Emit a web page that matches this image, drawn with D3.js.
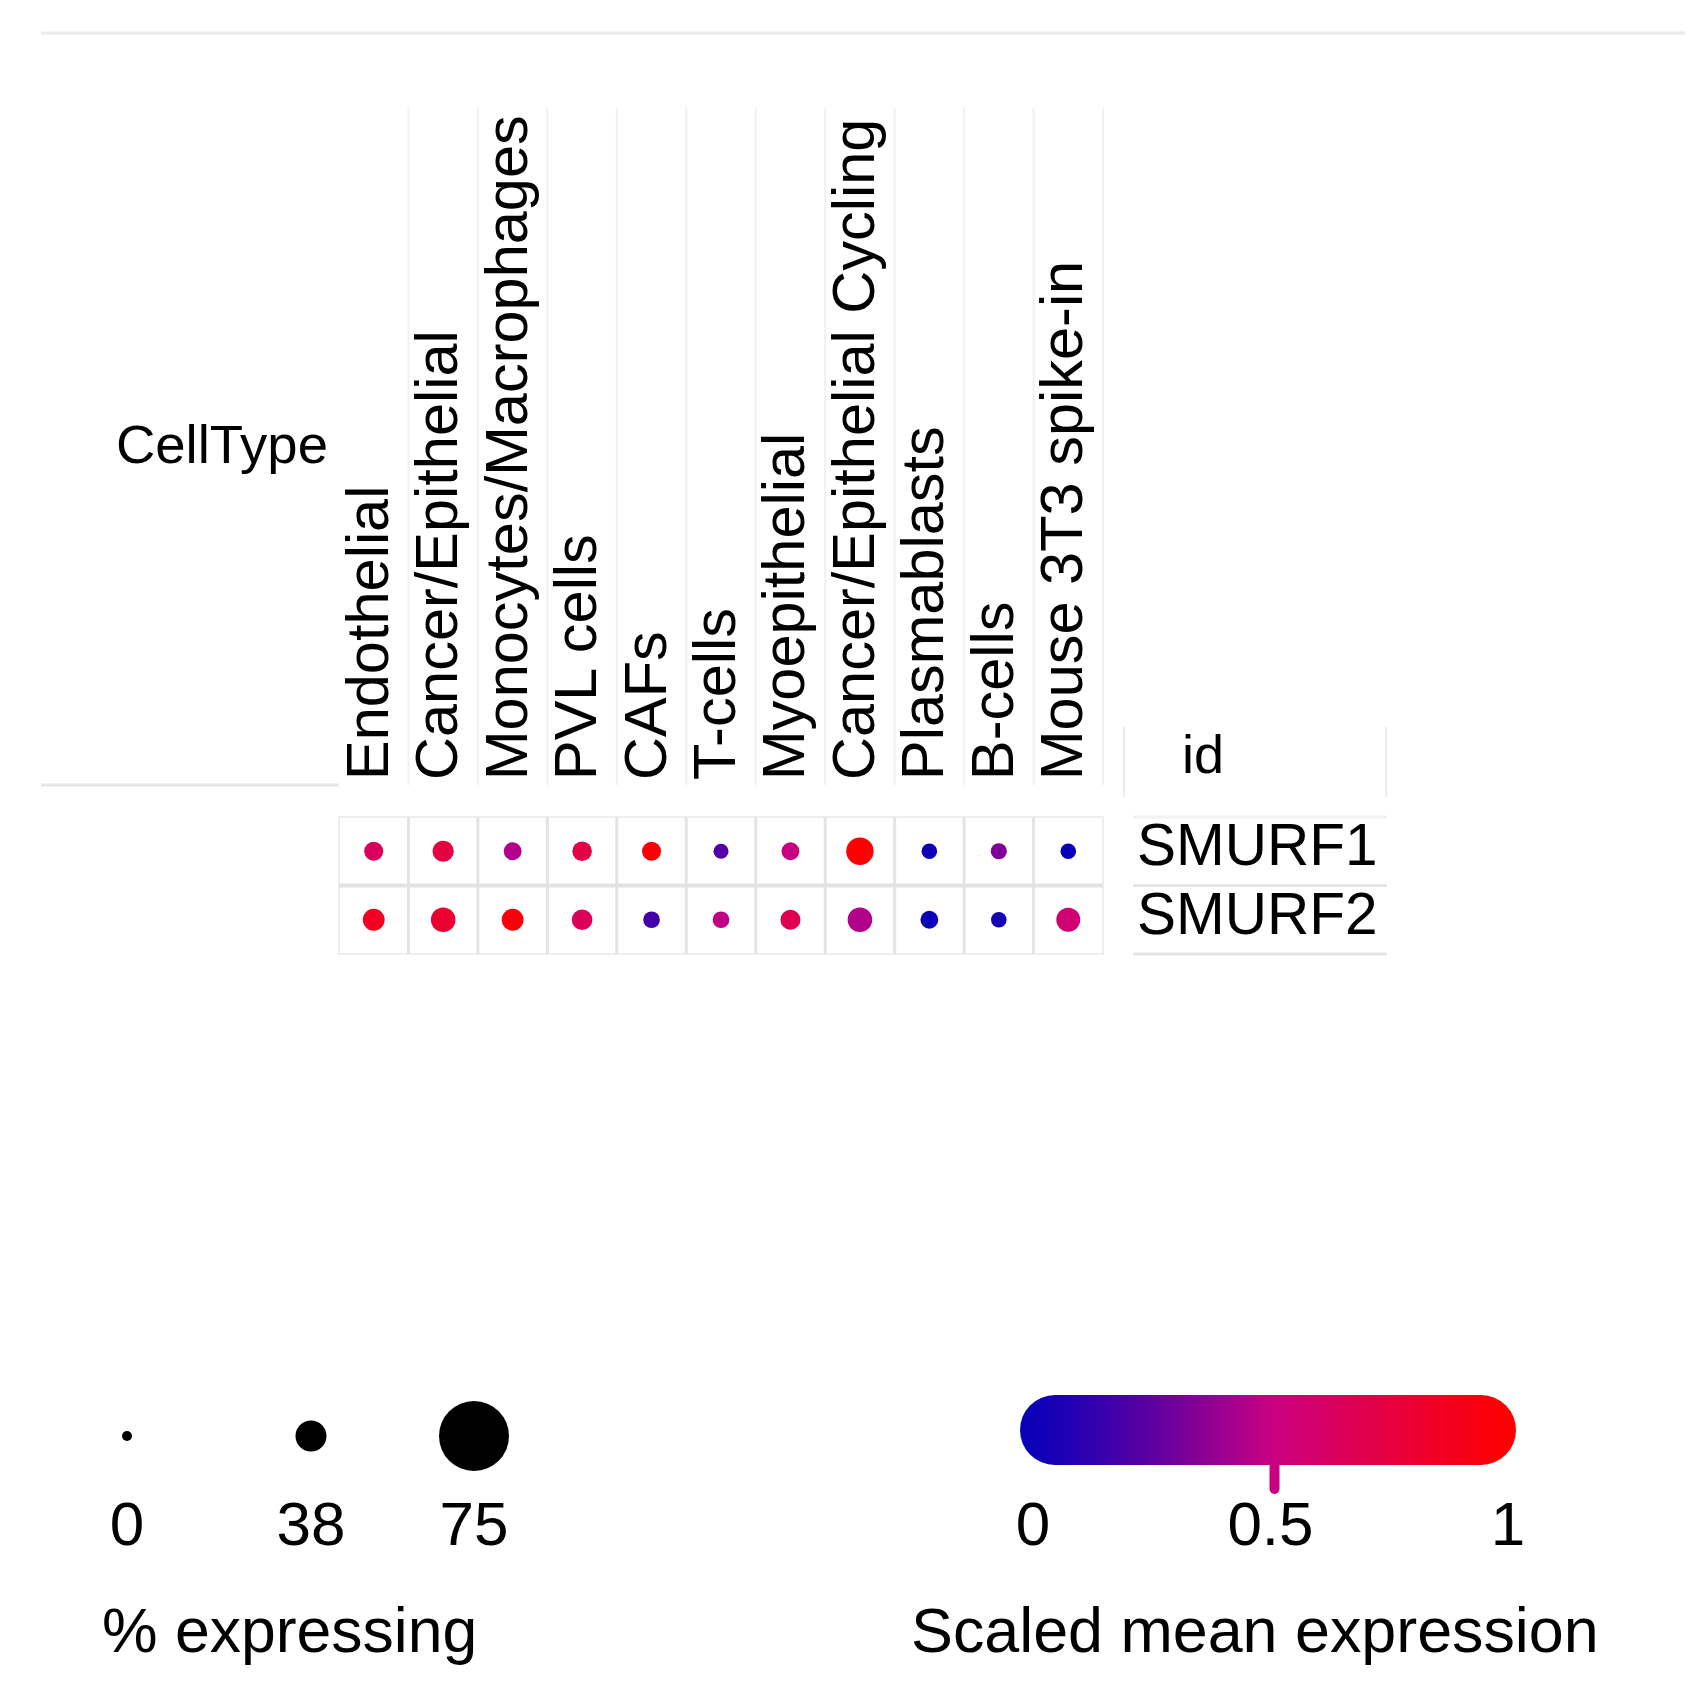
<!DOCTYPE html>
<html>
<head>
<meta charset="utf-8">
<script src="https://cdn.jsdelivr.net/npm/d3@7"></script>
<style>
  html, body { margin: 0; padding: 0; background: #ffffff; }
  svg { display: block; }
  text { font-family: "Liberation Sans", Arial, Helvetica, sans-serif; fill: #000; }
</style>
</head>
<body>
<script>
// ---------------- data ----------------
const cellTypes = ["Endothelial", "Cancer/Epithelial", "Monocytes/Macrophages", "PVL cells", "CAFs",
  "T-cells", "Myoepithelial", "Cancer/Epithelial Cycling", "Plasmablasts", "B-cells", "Mouse 3T3 spike-in"];
const genes = ["SMURF1", "SMURF2"];
// % expressing
const smurf1Pct = [16, 20, 14, 17, 16, 9, 14, 31, 10, 11, 10];
const smurf2Pct = [21, 26, 21, 19, 12, 12, 18, 26, 14, 10, 25];
// scaled mean expression
const smurf1Expr = [0.64, 0.74, 0.45, 0.72, 0.97, 0.22, 0.50, 1.00, 0.02, 0.33, 0.00];
const smurf2Expr = [0.86, 0.80, 0.95, 0.66, 0.18, 0.48, 0.68, 0.45, 0.01, 0.04, 0.56];
const sizeBreaks = [0, 37.5, 75];
const sizeBreakLabels = ["0", "38", "75"];
const colorBreaks = [0, 0.5, 1];
const colorBreakLabels = ["0", "0.5", "1"];
const colorStops = ["#0800b8", "#5c00a2", "#c90084", "#e6003f", "#ff0000"];
const xAxisTitle = "CellType";
const yAxisTitle = "id";
const sizeTitle = "% expressing";
const colorTitle = "Scaled mean expression";

// ---------------- build ----------------
const W = 1702, H = 1706;
const svg = d3.select("body").append("svg").attr("width", W).attr("height", H);
svg.append("rect").attr("width", W).attr("height", H).attr("fill", "#fff");

const x = d3.scaleBand().domain(cellTypes).range([339, 1103]).paddingInner(0).paddingOuter(0);
const y = d3.scaleBand().domain(genes).range([817, 954]);
const size = d3.scaleLinear().domain(sizeBreaks).range([5, 15.5, 35]);
const color = d3.scaleLinear()
  .domain(d3.range(colorStops.length).map(i => i / (colorStops.length - 1)))
  .range(colorStops).interpolate(d3.interpolateRgb).clamp(true);

const rows = [
  { gene: genes[0], pct: smurf1Pct, expr: smurf1Expr },
  { gene: genes[1], pct: smurf2Pct, expr: smurf2Expr }
];
const cells = [];
rows.forEach(r => cellTypes.forEach((c, i) => cells.push({ gene: r.gene, cell: c, pct: r.pct[i], expr: r.expr[i] })));

// top rule
svg.append("line").attr("x1", 41).attr("x2", 1685).attr("y1", 33).attr("y2", 33)
  .attr("stroke", "#e9e9e9").attr("stroke-width", 3);

// header separators
const hdr = svg.append("g");
cellTypes.forEach(c => {
  const xx = x(c) + x.bandwidth();
  hdr.append("line").attr("x1", xx).attr("x2", xx).attr("y1", 108).attr("y2", 785)
    .attr("stroke", "#f1f1f1").attr("stroke-width", 2);
});
// left rule under CellType
svg.append("line").attr("x1", 41).attr("x2", x.range()[0]).attr("y1", 785).attr("y2", 785)
  .attr("stroke", "#e6e6e6").attr("stroke-width", 3);

// column labels (rotated)
const colLab = svg.append("g");
cellTypes.forEach(c => {
  const cx = x(c) + x.bandwidth() / 2 + 14;
  colLab.append("text")
    .attr("transform", `translate(${cx},780) rotate(-90)`)
    .attr("text-anchor", "start")
    .attr("font-size", 59.5)
    .text(c);
});

// axis title CellType
svg.append("text").attr("x", 328).attr("y", 463).attr("text-anchor", "end")
  .attr("font-size", 54.5).attr("fill", "#1a1a1a").text(xAxisTitle);

// id box
const idBox = svg.append("g");
[1124, 1386].forEach(xx => idBox.append("line").attr("x1", xx).attr("x2", xx).attr("y1", 727).attr("y2", 797)
  .attr("stroke", "#ececec").attr("stroke-width", 2));
idBox.append("text").attr("x", 1203).attr("y", 773).attr("text-anchor", "middle")
  .attr("font-size", 54).attr("fill", "#1a1a1a").text(yAxisTitle);

// grid
const grid = svg.append("g");
const [gx0, gx1] = x.range();
const [gy0, gy1] = y.range();
grid.append("rect").attr("x", gx0).attr("y", gy0).attr("width", gx1 - gx0).attr("height", gy1 - gy0)
  .attr("fill", "none").attr("stroke", "#eeeeee").attr("stroke-width", 2);
cellTypes.slice(1).forEach(c => {
  grid.append("line").attr("x1", x(c)).attr("x2", x(c)).attr("y1", gy0).attr("y2", gy1)
    .attr("stroke", "#e4e4e4").attr("stroke-width", 3);
});
genes.slice(1).forEach(g => {
  grid.append("line").attr("x1", gx0).attr("x2", gx1).attr("y1", y(g)).attr("y2", y(g))
    .attr("stroke", "#e2e2e2").attr("stroke-width", 4);
});

// dots
svg.append("g").selectAll("circle").data(cells).join("circle")
  .attr("cx", d => x(d.cell) + x.bandwidth() / 2)
  .attr("cy", d => y(d.gene) + y.bandwidth() / 2)
  .attr("r", d => size(d.pct))
  .attr("fill", d => color(d.expr));

// row labels
const rowLab = svg.append("g");
genes.forEach(g => {
  rowLab.append("text").attr("x", 1137).attr("y", y(g) + y.bandwidth() / 2 + 14)
    .attr("font-size", 58.5).attr("fill", "#111").text(g);
});
[gy0, y(genes[1]), gy1].forEach((yy, i) => {
  rowLab.append("line").attr("x1", 1133).attr("x2", 1387).attr("y1", yy).attr("y2", yy)
    .attr("stroke", i === 0 ? "#f2f2f2" : "#e6e6e6").attr("stroke-width", 3);
});

// ---------------- size legend ----------------
const legX = d3.scaleLinear().domain(sizeBreaks).range([127, 311, 474]);
const sl = svg.append("g");
sizeBreaks.forEach((v, i) => {
  sl.append("circle").attr("cx", legX(v)).attr("cy", 1436).attr("r", size(v)).attr("fill", "#000");
  sl.append("text").attr("x", legX(v)).attr("y", 1545).attr("text-anchor", "middle")
    .attr("font-size", 62).text(sizeBreakLabels[i]);
});
sl.append("text").attr("x", 102).attr("y", 1652).attr("font-size", 62.5).text(sizeTitle);

// ---------------- color legend ----------------
const cx = d3.scaleLinear().domain([0, 1]).range([1033, 1508]);
const defs = svg.append("defs");
const grad = defs.append("linearGradient").attr("id", "cgrad").attr("x1", "0%").attr("x2", "100%");
const barX0 = cx(0) - 13, barX1 = cx(1) + 8;
d3.range(0, 1.0001, 0.05).forEach(t => {
  const v = cx.invert(barX0 + t * (barX1 - barX0));
  grad.append("stop").attr("offset", (t * 100) + "%").attr("stop-color", color(v));
});
const cl = svg.append("g");
cl.append("line").attr("x1", cx(0.5) + 4).attr("x2", cx(0.5) + 4).attr("y1", 1460).attr("y2", 1489)
  .attr("stroke", color(0.5)).attr("stroke-width", 10).attr("stroke-linecap", "round");
cl.append("rect").attr("x", barX0).attr("y", 1395).attr("width", barX1 - barX0).attr("height", 70)
  .attr("rx", 35).attr("ry", 35).attr("fill", "url(#cgrad)");
colorBreaks.forEach((v, i) => {
  cl.append("text").attr("x", cx(v)).attr("y", 1545).attr("text-anchor", "middle")
    .attr("font-size", 62).text(colorBreakLabels[i]);
});
cl.append("text").attr("x", 911).attr("y", 1652).attr("font-size", 62.8).text(colorTitle);
</script>
</body>
</html>
